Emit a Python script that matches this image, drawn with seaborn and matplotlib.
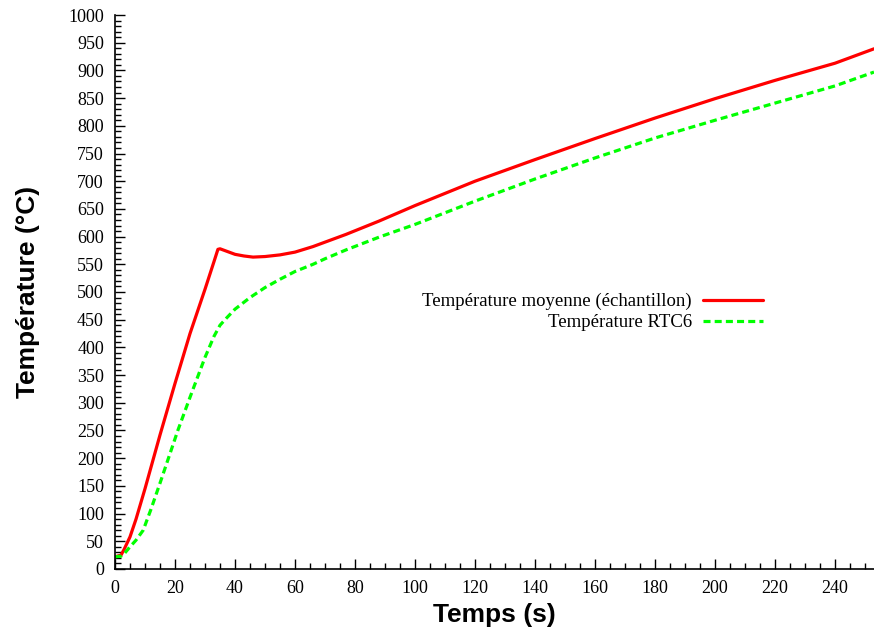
import numpy as np
import pandas as pd
import seaborn as sns
import matplotlib.pyplot as plt
from matplotlib.ticker import MultipleLocator

# temperature moyenne (echantillon)
t_moy = [0, 2, 3, 5, 7, 10, 15, 20, 25, 30, 33, 34.3, 35, 37, 40, 43, 46, 50, 55, 60, 66,
         70, 77, 88, 100, 120, 140, 160, 180, 200, 220, 240, 253]
T_moy = [22, 25, 35, 58, 90, 145, 242, 335, 425, 505, 555, 577, 578, 574, 568, 565, 563,
         564, 567, 572, 582, 590, 604, 628, 656, 700, 739, 777, 814, 849, 882, 913, 939]

# temperature RTC6
t_rtc = [0, 2, 3.3, 5, 7, 9.4, 12, 15, 18, 21, 25, 30, 33, 35, 37, 40, 45, 50, 55, 60, 66,
         70, 77, 88, 100, 120, 140, 160, 180, 200, 220, 240, 253]
T_rtc = [22, 23, 29, 40, 52, 70, 108, 155, 203, 251, 310, 382, 420, 440, 452, 469, 490,
         508, 523, 537, 550, 560, 576, 599, 622, 664, 704, 742, 778, 810, 841, 872, 897]

lab_moy = "Température moyenne (échantillon)"
lab_rtc = "Température RTC6"

sns.set_style("white", {"xtick.direction": "in", "ytick.direction": "in"})
plt.rcParams['font.family'] = ['Liberation Serif', 'DejaVu Serif']
plt.rcParams['xtick.direction'] = 'in'
plt.rcParams['ytick.direction'] = 'in'
plt.rcParams['text.color'] = 'black'
plt.rcParams['axes.labelcolor'] = 'black'
plt.rcParams['xtick.color'] = 'black'
plt.rcParams['ytick.color'] = 'black'

fig = plt.figure(figsize=(8.74, 6.31), dpi=100)
ax = fig.add_axes([0.1316, 0.0983, 0.8684, 0.8779])

df1 = pd.DataFrame({"t": t_moy, "T": T_moy})
df2 = pd.DataFrame({"t": t_rtc, "T": T_rtc})
sns.lineplot(data=df1, x="t", y="T", ax=ax, color="#ff0000", lw=2.3, label=lab_moy)
sns.lineplot(data=df2, x="t", y="T", ax=ax, color="#00ff00", lw=2.3, label=lab_rtc)
ax.lines[1].set_dashes([2.2, 1.3])

ax.set_xlim(0, 253)
ax.set_ylim(0, 1000)
ax.xaxis.set_major_locator(MultipleLocator(20))
ax.xaxis.set_minor_locator(MultipleLocator(5))
ax.yaxis.set_major_locator(MultipleLocator(50))
ax.yaxis.set_minor_locator(MultipleLocator(10))
ax.tick_params(which='both', direction='in', labelsize=13, color='black', labelcolor='black',
               width=1, bottom=True, left=True)
ax.tick_params(which='major', length=7, pad=8)
ax.tick_params(which='minor', length=4)

sns.despine(ax=ax)
for s in ['left', 'bottom']:
    ax.spines[s].set_color('black')
    ax.spines[s].set_linewidth(1.2)

ax.set_xlabel("Temps (s)", fontsize=19, fontweight='bold', family='Liberation Sans',
              labelpad=4, color='black')
ax.set_ylabel("Température (°C)", fontsize=19, fontweight='bold', family='Liberation Sans',
              labelpad=20, color='black')

ax.legend(loc='upper right', bbox_to_anchor=(763 / 874, 1 - 293 / 631),
          bbox_transform=fig.transFigure, frameon=False, markerfirst=False,
          fontsize=13.5, handlelength=3.2, handletextpad=0.6, labelspacing=0.2,
          borderaxespad=0, borderpad=0)
leg = ax.get_legend()
leg._legend_box.align = "right"
for t in leg.get_texts():
    t.set_color('black')

fig.savefig("out.png", dpi=100)
